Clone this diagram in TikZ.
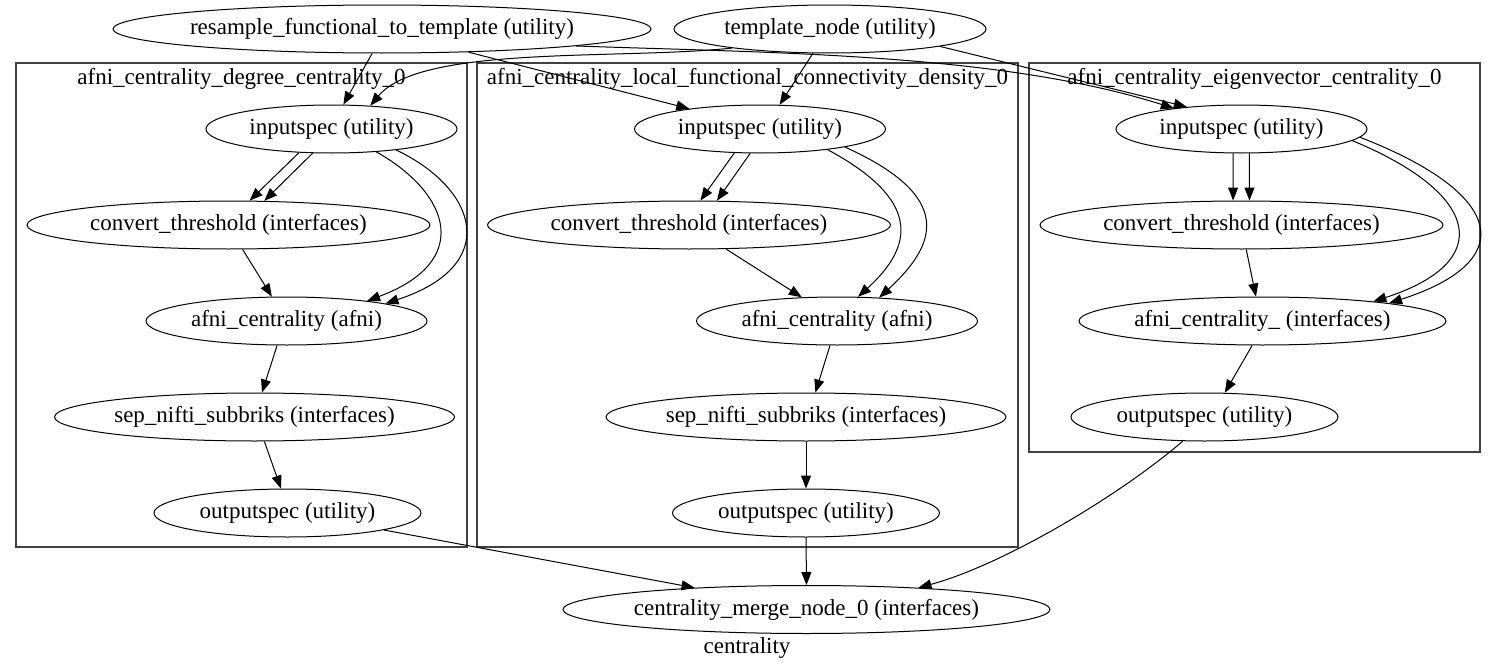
\documentclass[tikz,border=0pt]{standalone}
\usepackage{fontspec}
\setmainfont{Liberation Serif}
\usetikzlibrary{arrows.meta,shapes.geometric}

\tikzset{
    unit/.style={draw, ellipse, inner sep=0pt, minimum height=24pt, line width=0.5pt, font=\fontsize{11.5pt}{14pt}\selectfont,
        execute at begin node={\hbox to 0pt\bgroup\hss}, execute at end node={\hss\egroup}},
    link/.style={-{Triangle[length=6.5pt, width=5pt]}, line width=0.5pt},
    cluster/.style={draw=black!75, line width=0.7pt},
    caption/.style={inner sep=0pt, font=\fontsize{11.5pt}{14pt}\selectfont},
}

\begin{document}
\begin{tikzpicture}[x=0.5pt, y=-0.5pt]
            % the frame
            \useasboundingbox (0,0) rectangle (1496,669);

            % the clusters
            \draw[cluster] (16,63) rectangle (467,547);
            \draw[cluster] (477,63) rectangle (1018,547);
            \draw[cluster] (1029,63) rectangle (1480,452);
            \node[caption] (degLabel) at (241.5,79) {afni\_centrality\_degree\_centrality\_0};
            \node[caption] (lfcdLabel) at (747.5,79) {afni\_centrality\_local\_functional\_connectivity\_density\_0};
            \node[caption] (eigLabel) at (1254.5,79) {afni\_centrality\_eigenvector\_centrality\_0};
            \node[caption] (graphLabel) at (747,648) {centrality};

            % the sources
            \node[unit, minimum width=269pt] (resample) at (382,29) {resample\_functional\_to\_template (utility)};
            \node[unit, minimum width=156pt] (template) at (830,29) {template\_node (utility)};

            % degree centrality
            \node[unit, minimum width=125.5pt] (degIn) at (331.5,129) {inputspec (utility)};
            \node[unit, minimum width=201.5pt] (degConv) at (228.5,225) {convert\_threshold (interfaces)};
            \node[unit, minimum width=140.5pt] (degAfni) at (286.5,321) {afni\_centrality (afni)};
            \node[unit, minimum width=200pt] (degSep) at (254.5,417) {sep\_nifti\_subbriks (interfaces)};
            \node[unit, minimum width=133.5pt] (degOut) at (287.5,513) {outputspec (utility)};

            % local functional connectivity density
            \node[unit, minimum width=125.5pt] (lfcdIn) at (760,129) {inputspec (utility)};
            \node[unit, minimum width=201.5pt] (lfcdConv) at (689,225) {convert\_threshold (interfaces)};
            \node[unit, minimum width=140.5pt] (lfcdAfni) at (837,321) {afni\_centrality (afni)};
            \node[unit, minimum width=200pt] (lfcdSep) at (806,417) {sep\_nifti\_subbriks (interfaces)};
            \node[unit, minimum width=133.5pt] (lfcdOut) at (806,513) {outputspec (utility)};

            % eigenvector centrality
            \node[unit, minimum width=125.5pt] (eigIn) at (1241.5,129) {inputspec (utility)};
            \node[unit, minimum width=201.5pt] (eigConv) at (1241.5,225) {convert\_threshold (interfaces)};
            \node[unit, minimum width=183.5pt] (eigAfni) at (1262.5,321) {afni\_centrality\_ (interfaces)};
            \node[unit, minimum width=133.5pt] (eigOut) at (1204.5,417) {outputspec (utility)};

            % the sink
            \node[unit, minimum width=243.5pt] (merge) at (806.5,609.5) {centrality\_merge\_node\_0 (interfaces)};

            % arrows from the sources
            \draw[link] (resample.-112.6) -- (degIn.64.3);
            \draw[link] (template.-169) .. controls +(-113,12) and +(51,-61) .. (degIn.31.4);
            \draw[link] (resample.-15.2) -- (lfcdIn.164.1);
            \draw[link] (template.-125.5) -- (lfcdIn.51.3);
            \draw[link] (resample.-5.7) .. controls +(199,7) and +(-174,-55) .. (eigIn.163.3);
            \draw[link] (template.-9.3) -- (eigIn.158.8);

            % arrows in degree centrality
            \draw[link] (degIn.-144) -- (degConv.49.4);
            \draw[link] (degIn.-128) -- (degConv.34.4);
            \draw[link] (degIn.-27.3) .. controls +(75,42.5) and +(105,-39) .. (degAfni.14.7);
            \draw[link] (degIn.-18.8) .. controls +(82,39) and +(116,-38) .. (degAfni.10.4);
            \draw[link] (degConv.-60.5) -- (degAfni.121.2);
            \draw[link] (degAfni.-111.6) -- (degSep.73);
            \draw[link] (degSep.-68.6) -- (degOut.105.2);

            % arrows in local functional connectivity density
            \draw[link] (lfcdIn.-137.9) -- (lfcdConv.65.4);
            \draw[link] (lfcdIn.-112.6) -- (lfcdConv.41.4);
            \draw[link] (lfcdIn.-17.5) .. controls +(92,49.5) and +(57.5,-52.3) .. (lfcdAfni.49.1);
            \draw[link] (lfcdIn.-12.7) .. controls +(110,49.7) and +(58,-53.3) .. (lfcdAfni.29.6);
            \draw[link] (lfcdConv.-33.2) -- (lfcdAfni.146.5);
            \draw[link] (lfcdAfni.-106.3) -- (lfcdSep.69.4);
            \draw[link] (lfcdSep.south) -- (lfcdOut.north);

            % arrows in eigenvector centrality
            \draw[link] (eigIn.-109.5) -- (eigConv.109.5);
            \draw[link] (eigIn.-72.6) -- (eigConv.72.6);
            \draw[link] (eigIn.-6.8) .. controls +(129,53.3) and +(122,-39.4) .. (eigAfni.10.5);
            \draw[link] (eigIn.-4.7) .. controls +(148,57.6) and +(129,-41.4) .. (eigAfni.8);
            \draw[link] (eigConv.-79.4) -- (eigAfni.105.2);
            \draw[link] (eigAfni.-113.6) -- (eigOut.50.6);

            % arrows to the sink
            \draw[link] (degOut.-10.8) -- (merge.169.3);
            \draw[link] (lfcdOut.south) -- (merge.north);
            \draw[link] (eigOut.-132.2) .. controls +(-63,54.3) and +(85,-23) .. (merge.11.2);

        \end{tikzpicture}
\end{document}
